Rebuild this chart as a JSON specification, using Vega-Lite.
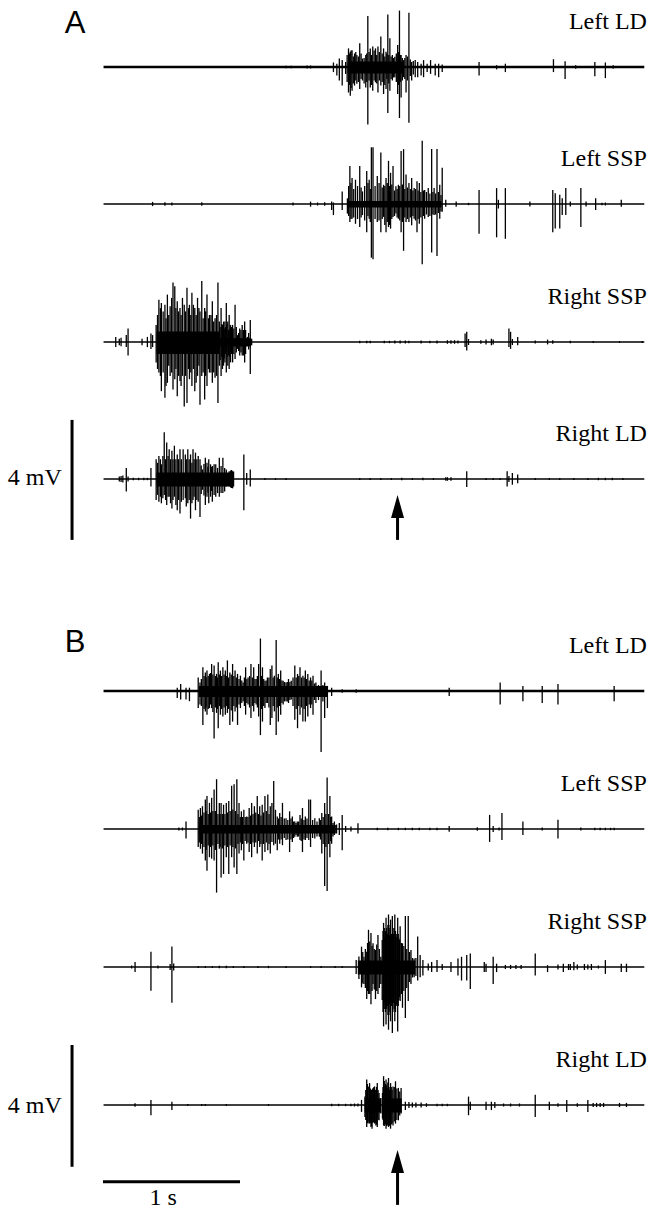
{"$schema":"https://vega.github.io/schema/vega-lite/v6.json",
"padding":0,"bounds":"flush","spacing":0,"background":"white",
"config":{"view":{"stroke":null},"concat":{"spacing":0}},
"resolve":{"scale":{"x":"independent","y":"independent"}},
"datasets":{"d":[
{"tr":"A1","k":"B","t":0.004,"t2":3.951,"lo":0},
{"tr":"A1","k":"L","t":3.97,"lo":1.27,"txt":"Left LD"},
{"tr":"A1","k":"P","t":-0.204,"lo":1.133,"txt":"A"},
{"tr":"A1","k":"c","t":1.785,"t2":2.19,"lo":-0.22,"hi":0.18},
{"tr":"A1","k":"s","t":1.336,"lo":-0.04,"hi":0.04},
{"tr":"A1","k":"s","t":1.374,"lo":-0.04,"hi":0.04},
{"tr":"A1","k":"s","t":1.49,"lo":-0.05,"hi":0.05},
{"tr":"A1","k":"s","t":1.515,"lo":-0.05,"hi":0.05},
{"tr":"A1","k":"s","t":1.682,"lo":-0.17,"hi":0.15},
{"tr":"A1","k":"s","t":1.707,"lo":-0.28,"hi":0.11},
{"tr":"A1","k":"s","t":1.725,"lo":-0.45,"hi":0.28},
{"tr":"A1","k":"s","t":1.746,"lo":-0.62,"hi":0.23},
{"tr":"A1","k":"s","t":1.771,"lo":-0.23,"hi":0.17},
{"tr":"A1","k":"s","t":1.782,"lo":-0.5,"hi":0.4},
{"tr":"A1","k":"s","t":1.792,"lo":-0.85,"hi":0.62},
{"tr":"A1","k":"s","t":1.798,"lo":-0.6,"hi":0.45},
{"tr":"A1","k":"s","t":1.805,"lo":-0.96,"hi":0.51},
{"tr":"A1","k":"s","t":1.811,"lo":-0.7,"hi":0.55},
{"tr":"A1","k":"s","t":1.818,"lo":-0.79,"hi":0.56},
{"tr":"A1","k":"s","t":1.827,"lo":-0.55,"hi":0.35},
{"tr":"A1","k":"s","t":1.836,"lo":-0.62,"hi":0.45},
{"tr":"A1","k":"s","t":1.845,"lo":-0.45,"hi":0.5},
{"tr":"A1","k":"s","t":1.853,"lo":-0.56,"hi":0.4},
{"tr":"A1","k":"s","t":1.864,"lo":-0.5,"hi":0.35},
{"tr":"A1","k":"s","t":1.874,"lo":-0.73,"hi":0.79},
{"tr":"A1","k":"s","t":1.884,"lo":-0.4,"hi":0.45},
{"tr":"A1","k":"s","t":1.894,"lo":-0.45,"hi":0.28},
{"tr":"A1","k":"s","t":1.906,"lo":-0.55,"hi":0.3},
{"tr":"A1","k":"s","t":1.918,"lo":-0.68,"hi":0.4},
{"tr":"A1","k":"s","t":1.925,"lo":-0.5,"hi":0.45},
{"tr":"A1","k":"s","t":1.933,"lo":-1.92,"hi":1.7},
{"tr":"A1","k":"s","t":1.942,"lo":-0.45,"hi":0.5},
{"tr":"A1","k":"s","t":1.951,"lo":-0.68,"hi":0.62},
{"tr":"A1","k":"s","t":1.96,"lo":-0.6,"hi":0.4},
{"tr":"A1","k":"s","t":1.969,"lo":-0.79,"hi":0.68},
{"tr":"A1","k":"s","t":1.979,"lo":-0.45,"hi":0.55},
{"tr":"A1","k":"s","t":1.989,"lo":-0.51,"hi":0.62},
{"tr":"A1","k":"s","t":1.998,"lo":-0.55,"hi":0.4},
{"tr":"A1","k":"s","t":2.007,"lo":-0.85,"hi":0.68},
{"tr":"A1","k":"s","t":2.017,"lo":-0.45,"hi":0.5},
{"tr":"A1","k":"s","t":2.028,"lo":-0.62,"hi":1.02},
{"tr":"A1","k":"s","t":2.038,"lo":-0.5,"hi":0.45},
{"tr":"A1","k":"s","t":2.048,"lo":-0.9,"hi":0.62},
{"tr":"A1","k":"s","t":2.057,"lo":-0.6,"hi":0.35},
{"tr":"A1","k":"s","t":2.066,"lo":-0.73,"hi":0.51},
{"tr":"A1","k":"s","t":2.072,"lo":-0.4,"hi":0.45},
{"tr":"A1","k":"s","t":2.079,"lo":-1.53,"hi":1.75},
{"tr":"A1","k":"s","t":2.086,"lo":-0.55,"hi":0.4},
{"tr":"A1","k":"s","t":2.094,"lo":-0.79,"hi":0.96},
{"tr":"A1","k":"s","t":2.103,"lo":-0.4,"hi":0.35},
{"tr":"A1","k":"s","t":2.112,"lo":-0.45,"hi":0.4},
{"tr":"A1","k":"s","t":2.121,"lo":-0.35,"hi":0.3},
{"tr":"A1","k":"s","t":2.13,"lo":-0.34,"hi":0.34},
{"tr":"A1","k":"s","t":2.141,"lo":-0.5,"hi":0.45},
{"tr":"A1","k":"s","t":2.151,"lo":-0.9,"hi":0.73},
{"tr":"A1","k":"s","t":2.158,"lo":-0.6,"hi":0.5},
{"tr":"A1","k":"s","t":2.164,"lo":-1.7,"hi":1.88},
{"tr":"A1","k":"s","t":2.17,"lo":-0.5,"hi":0.4},
{"tr":"A1","k":"s","t":2.176,"lo":-1.02,"hi":0.4},
{"tr":"A1","k":"s","t":2.185,"lo":-0.45,"hi":0.3},
{"tr":"A1","k":"s","t":2.194,"lo":-0.34,"hi":0.23},
{"tr":"A1","k":"s","t":2.203,"lo":-0.4,"hi":0.3},
{"tr":"A1","k":"s","t":2.212,"lo":-0.85,"hi":0.4},
{"tr":"A1","k":"s","t":2.222,"lo":-0.45,"hi":0.35},
{"tr":"A1","k":"s","t":2.233,"lo":-1.86,"hi":1.81},
{"tr":"A1","k":"s","t":2.243,"lo":-0.3,"hi":0.25},
{"tr":"A1","k":"s","t":2.253,"lo":-0.45,"hi":0.17},
{"tr":"A1","k":"s","t":2.265,"lo":-0.25,"hi":0.2},
{"tr":"A1","k":"s","t":2.279,"lo":-0.34,"hi":0.23},
{"tr":"A1","k":"s","t":2.297,"lo":-0.34,"hi":0.17},
{"tr":"A1","k":"s","t":2.322,"lo":-0.28,"hi":0.11},
{"tr":"A1","k":"s","t":2.34,"lo":-0.34,"hi":0.23},
{"tr":"A1","k":"s","t":2.366,"lo":-0.17,"hi":0.11},
{"tr":"A1","k":"s","t":2.391,"lo":-0.23,"hi":0.23},
{"tr":"A1","k":"s","t":2.425,"lo":-0.28,"hi":0.11},
{"tr":"A1","k":"s","t":2.45,"lo":-0.34,"hi":0.11},
{"tr":"A1","k":"s","t":2.476,"lo":-0.17,"hi":0.08},
{"tr":"A1","k":"s","t":2.745,"lo":-0.28,"hi":0.17},
{"tr":"A1","k":"s","t":2.873,"lo":-0.08,"hi":0.06},
{"tr":"A1","k":"s","t":2.937,"lo":-0.17,"hi":0.11},
{"tr":"A1","k":"s","t":3.288,"lo":-0.17,"hi":0.26},
{"tr":"A1","k":"s","t":3.373,"lo":-0.4,"hi":0.19},
{"tr":"A1","k":"s","t":3.45,"lo":-0.06,"hi":0.06},
{"tr":"A1","k":"s","t":3.59,"lo":-0.31,"hi":0.17},
{"tr":"A1","k":"s","t":3.667,"lo":-0.37,"hi":0.15},
{"tr":"A1","k":"s","t":3.724,"lo":-0.06,"hi":0.06},

{"tr":"A2","k":"b","t":0.004,"t2":3.951,"lo":0},
{"tr":"A2","k":"L","t":3.97,"lo":1.27,"txt":"Left SSP"},
{"tr":"A2","k":"c","t":1.79,"t2":2.47,"lo":-0.12,"hi":0.1},
{"tr":"A2","k":"s","t":0.362,"lo":-0.07,"hi":0.07},
{"tr":"A2","k":"s","t":0.452,"lo":-0.06,"hi":0.06},
{"tr":"A2","k":"s","t":0.503,"lo":-0.05,"hi":0.05},
{"tr":"A2","k":"s","t":0.721,"lo":-0.06,"hi":0.06},
{"tr":"A2","k":"s","t":1.387,"lo":-0.05,"hi":0.05},
{"tr":"A2","k":"s","t":1.515,"lo":-0.09,"hi":0.08},
{"tr":"A2","k":"s","t":1.566,"lo":-0.05,"hi":0.05},
{"tr":"A2","k":"s","t":1.618,"lo":-0.06,"hi":0.06},
{"tr":"A2","k":"s","t":1.669,"lo":-0.2,"hi":0.08},
{"tr":"A2","k":"s","t":1.682,"lo":-0.37,"hi":0.05},
{"tr":"A2","k":"s","t":1.746,"lo":-0.2,"hi":0.42},
{"tr":"A2","k":"s","t":1.784,"lo":-0.32,"hi":0.19},
{"tr":"A2","k":"s","t":1.793,"lo":-0.4,"hi":0.6},
{"tr":"A2","k":"s","t":1.802,"lo":-0.6,"hi":1.27},
{"tr":"A2","k":"s","t":1.81,"lo":-0.5,"hi":0.7},
{"tr":"A2","k":"s","t":1.818,"lo":-0.49,"hi":0.87},
{"tr":"A2","k":"s","t":1.83,"lo":-0.45,"hi":0.5},
{"tr":"A2","k":"s","t":1.843,"lo":-0.66,"hi":0.81},
{"tr":"A2","k":"s","t":1.858,"lo":-0.5,"hi":0.6},
{"tr":"A2","k":"s","t":1.874,"lo":-0.77,"hi":1.27},
{"tr":"A2","k":"s","t":1.884,"lo":-0.45,"hi":0.55},
{"tr":"A2","k":"s","t":1.894,"lo":-0.37,"hi":0.42},
{"tr":"A2","k":"s","t":1.91,"lo":-0.55,"hi":0.6},
{"tr":"A2","k":"s","t":1.925,"lo":-0.94,"hi":1.1},
{"tr":"A2","k":"s","t":1.934,"lo":-0.4,"hi":0.7},
{"tr":"A2","k":"s","t":1.943,"lo":-0.49,"hi":0.81},
{"tr":"A2","k":"s","t":1.951,"lo":-0.6,"hi":0.5},
{"tr":"A2","k":"s","t":1.959,"lo":-1.79,"hi":1.89},
{"tr":"A2","k":"s","t":1.971,"lo":-1.84,"hi":1.89},
{"tr":"A2","k":"s","t":1.986,"lo":-0.5,"hi":0.6},
{"tr":"A2","k":"s","t":2.002,"lo":-0.6,"hi":0.93},
{"tr":"A2","k":"s","t":2.015,"lo":-0.55,"hi":0.7},
{"tr":"A2","k":"s","t":2.028,"lo":-0.94,"hi":1.72},
{"tr":"A2","k":"s","t":2.038,"lo":-0.5,"hi":0.55},
{"tr":"A2","k":"s","t":2.048,"lo":-0.43,"hi":0.64},
{"tr":"A2","k":"s","t":2.057,"lo":-0.7,"hi":0.6},
{"tr":"A2","k":"s","t":2.066,"lo":-0.94,"hi":0.87},
{"tr":"A2","k":"s","t":2.075,"lo":-0.6,"hi":0.7},
{"tr":"A2","k":"s","t":2.084,"lo":-0.77,"hi":1.44},
{"tr":"A2","k":"s","t":2.092,"lo":-0.7,"hi":0.6},
{"tr":"A2","k":"s","t":2.099,"lo":-0.82,"hi":1.04},
{"tr":"A2","k":"s","t":2.108,"lo":-0.5,"hi":0.65},
{"tr":"A2","k":"s","t":2.117,"lo":-0.43,"hi":1.27},
{"tr":"A2","k":"s","t":2.128,"lo":-0.4,"hi":0.45},
{"tr":"A2","k":"s","t":2.138,"lo":-0.32,"hi":0.59},
{"tr":"A2","k":"s","t":2.147,"lo":-0.45,"hi":0.5},
{"tr":"A2","k":"s","t":2.156,"lo":-0.49,"hi":0.64},
{"tr":"A2","k":"s","t":2.166,"lo":-0.55,"hi":0.6},
{"tr":"A2","k":"s","t":2.176,"lo":-0.94,"hi":1.77},
{"tr":"A2","k":"s","t":2.185,"lo":-0.6,"hi":0.65},
{"tr":"A2","k":"s","t":2.194,"lo":-1.56,"hi":1.83},
{"tr":"A2","k":"s","t":2.203,"lo":-0.45,"hi":0.5},
{"tr":"A2","k":"s","t":2.212,"lo":-0.6,"hi":0.98},
{"tr":"A2","k":"s","t":2.222,"lo":-0.5,"hi":0.55},
{"tr":"A2","k":"s","t":2.233,"lo":-0.6,"hi":0.7},
{"tr":"A2","k":"s","t":2.243,"lo":-0.45,"hi":0.5},
{"tr":"A2","k":"s","t":2.253,"lo":-0.71,"hi":0.87},
{"tr":"A2","k":"s","t":2.262,"lo":-0.4,"hi":0.45},
{"tr":"A2","k":"s","t":2.271,"lo":-0.49,"hi":0.53},
{"tr":"A2","k":"s","t":2.281,"lo":-0.55,"hi":0.5},
{"tr":"A2","k":"s","t":2.292,"lo":-0.94,"hi":0.76},
{"tr":"A2","k":"s","t":2.3,"lo":-0.5,"hi":0.45},
{"tr":"A2","k":"s","t":2.309,"lo":-0.66,"hi":0.7},
{"tr":"A2","k":"s","t":2.32,"lo":-0.45,"hi":0.4},
{"tr":"A2","k":"s","t":2.33,"lo":-2.01,"hi":2.11},
{"tr":"A2","k":"s","t":2.339,"lo":-0.4,"hi":0.45},
{"tr":"A2","k":"s","t":2.348,"lo":-0.49,"hi":0.47},
{"tr":"A2","k":"s","t":2.361,"lo":-0.35,"hi":0.4},
{"tr":"A2","k":"s","t":2.374,"lo":-0.43,"hi":0.53},
{"tr":"A2","k":"s","t":2.386,"lo":-0.4,"hi":0.35},
{"tr":"A2","k":"s","t":2.399,"lo":-1.62,"hi":1.83},
{"tr":"A2","k":"s","t":2.408,"lo":-0.35,"hi":0.4},
{"tr":"A2","k":"s","t":2.417,"lo":-0.37,"hi":0.53},
{"tr":"A2","k":"s","t":2.428,"lo":-0.35,"hi":0.35},
{"tr":"A2","k":"s","t":2.438,"lo":-1.73,"hi":1.83},
{"tr":"A2","k":"s","t":2.448,"lo":-0.3,"hi":0.4},
{"tr":"A2","k":"s","t":2.458,"lo":-0.49,"hi":0.64},
{"tr":"A2","k":"s","t":2.467,"lo":-0.25,"hi":0.3},
{"tr":"A2","k":"s","t":2.476,"lo":-0.26,"hi":1.21},
{"tr":"A2","k":"s","t":2.502,"lo":-0.09,"hi":0.14},
{"tr":"A2","k":"s","t":2.578,"lo":-0.09,"hi":0.08},
{"tr":"A2","k":"s","t":2.668,"lo":-0.04,"hi":0.04},
{"tr":"A2","k":"s","t":2.745,"lo":-0.99,"hi":0.47},
{"tr":"A2","k":"s","t":2.873,"lo":-1.11,"hi":0.53},
{"tr":"A2","k":"s","t":2.886,"lo":-0.15,"hi":0.14},
{"tr":"A2","k":"s","t":2.937,"lo":-1.16,"hi":0.53},
{"tr":"A2","k":"s","t":3.116,"lo":-0.08,"hi":0.08},
{"tr":"A2","k":"s","t":3.283,"lo":-0.94,"hi":0.47},
{"tr":"A2","k":"s","t":3.301,"lo":-0.82,"hi":0.36},
{"tr":"A2","k":"s","t":3.334,"lo":-0.82,"hi":0.31},
{"tr":"A2","k":"s","t":3.352,"lo":-0.37,"hi":0.19},
{"tr":"A2","k":"s","t":3.378,"lo":-0.37,"hi":0.53},
{"tr":"A2","k":"s","t":3.411,"lo":-0.08,"hi":0.08},
{"tr":"A2","k":"s","t":3.488,"lo":-0.77,"hi":0.53},
{"tr":"A2","k":"s","t":3.526,"lo":-0.08,"hi":0.08},
{"tr":"A2","k":"s","t":3.596,"lo":-0.2,"hi":0.19},
{"tr":"A2","k":"s","t":3.642,"lo":-0.04,"hi":0.04},
{"tr":"A2","k":"s","t":3.667,"lo":-0.05,"hi":0.05},
{"tr":"A2","k":"s","t":3.783,"lo":-0.09,"hi":0.14},

{"tr":"A3","k":"b","t":0.004,"t2":3.951,"lo":0},
{"tr":"A3","k":"L","t":3.97,"lo":1.27,"txt":"Right SSP"},
{"tr":"A3","k":"c","t":0.39,"t2":0.85,"lo":-0.4,"hi":0.35},
{"tr":"A3","k":"c","t":0.85,"t2":1.08,"lo":-0.15,"hi":0.13},
{"tr":"A3","k":"s","t":0.093,"lo":-0.17,"hi":0.17},
{"tr":"A3","k":"s","t":0.119,"lo":-0.11,"hi":0.11},
{"tr":"A3","k":"s","t":0.132,"lo":-0.14,"hi":0.14},
{"tr":"A3","k":"s","t":0.17,"lo":-0.17,"hi":0.23},
{"tr":"A3","k":"s","t":0.183,"lo":-0.45,"hi":0.45},
{"tr":"A3","k":"s","t":0.285,"lo":-0.11,"hi":0.11},
{"tr":"A3","k":"s","t":0.324,"lo":-0.17,"hi":0.17},
{"tr":"A3","k":"s","t":0.35,"lo":-0.23,"hi":0.28},
{"tr":"A3","k":"s","t":0.362,"lo":-0.17,"hi":0.23},
{"tr":"A3","k":"s","t":0.388,"lo":-0.68,"hi":0.57},
{"tr":"A3","k":"s","t":0.398,"lo":-0.9,"hi":0.9},
{"tr":"A3","k":"s","t":0.408,"lo":-1.02,"hi":1.41},
{"tr":"A3","k":"s","t":0.419,"lo":-1.13,"hi":1.13},
{"tr":"A3","k":"s","t":0.426,"lo":-1.64,"hi":1.3},
{"tr":"A3","k":"s","t":0.439,"lo":-1.02,"hi":1.02},
{"tr":"A3","k":"s","t":0.452,"lo":-1.86,"hi":1.24},
{"tr":"A3","k":"s","t":0.46,"lo":-1.47,"hi":0.79},
{"tr":"A3","k":"s","t":0.47,"lo":-1.36,"hi":1.58},
{"tr":"A3","k":"s","t":0.48,"lo":-0.79,"hi":0.9},
{"tr":"A3","k":"s","t":0.49,"lo":-1.13,"hi":1.19},
{"tr":"A3","k":"s","t":0.501,"lo":-1.02,"hi":1.47},
{"tr":"A3","k":"s","t":0.511,"lo":-1.58,"hi":1.98},
{"tr":"A3","k":"s","t":0.524,"lo":-1.24,"hi":1.86},
{"tr":"A3","k":"s","t":0.532,"lo":-0.9,"hi":1.13},
{"tr":"A3","k":"s","t":0.542,"lo":-1.81,"hi":1.36},
{"tr":"A3","k":"s","t":0.552,"lo":-1.13,"hi":1.02},
{"tr":"A3","k":"s","t":0.562,"lo":-1.3,"hi":1.13},
{"tr":"A3","k":"s","t":0.57,"lo":-1.47,"hi":0.9},
{"tr":"A3","k":"s","t":0.58,"lo":-1.13,"hi":1.47},
{"tr":"A3","k":"s","t":0.593,"lo":-2.15,"hi":1.24},
{"tr":"A3","k":"s","t":0.603,"lo":-1.13,"hi":1.02},
{"tr":"A3","k":"s","t":0.613,"lo":-2.03,"hi":1.81},
{"tr":"A3","k":"s","t":0.624,"lo":-0.9,"hi":1.13},
{"tr":"A3","k":"s","t":0.631,"lo":-1.24,"hi":1.24},
{"tr":"A3","k":"s","t":0.641,"lo":-1.02,"hi":0.9},
{"tr":"A3","k":"s","t":0.649,"lo":-1.47,"hi":1.64},
{"tr":"A3","k":"s","t":0.66,"lo":-0.9,"hi":1.24},
{"tr":"A3","k":"s","t":0.67,"lo":-1.64,"hi":1.13},
{"tr":"A3","k":"s","t":0.68,"lo":-1.36,"hi":0.9},
{"tr":"A3","k":"s","t":0.69,"lo":-1.13,"hi":1.47},
{"tr":"A3","k":"s","t":0.7,"lo":-0.79,"hi":1.13},
{"tr":"A3","k":"s","t":0.708,"lo":-2.09,"hi":1.02},
{"tr":"A3","k":"s","t":0.721,"lo":-1.13,"hi":2.03},
{"tr":"A3","k":"s","t":0.731,"lo":-1.02,"hi":0.79},
{"tr":"A3","k":"s","t":0.742,"lo":-1.92,"hi":1.13},
{"tr":"A3","k":"s","t":0.749,"lo":-1.13,"hi":1.02},
{"tr":"A3","k":"s","t":0.759,"lo":-1.47,"hi":1.58},
{"tr":"A3","k":"s","t":0.77,"lo":-0.9,"hi":0.79},
{"tr":"A3","k":"s","t":0.777,"lo":-1.02,"hi":0.9},
{"tr":"A3","k":"s","t":0.788,"lo":-1.02,"hi":0.9},
{"tr":"A3","k":"s","t":0.798,"lo":-1.36,"hi":1.36},
{"tr":"A3","k":"s","t":0.808,"lo":-1.02,"hi":0.68},
{"tr":"A3","k":"s","t":0.818,"lo":-1.19,"hi":0.79},
{"tr":"A3","k":"s","t":0.829,"lo":-1.13,"hi":0.9},
{"tr":"A3","k":"s","t":0.839,"lo":-2.03,"hi":1.98},
{"tr":"A3","k":"s","t":0.849,"lo":-0.79,"hi":0.68},
{"tr":"A3","k":"s","t":0.855,"lo":-0.6,"hi":0.5},
{"tr":"A3","k":"s","t":0.862,"lo":-1.13,"hi":1.13},
{"tr":"A3","k":"s","t":0.867,"lo":-0.5,"hi":0.6},
{"tr":"A3","k":"s","t":0.872,"lo":-0.9,"hi":0.57},
{"tr":"A3","k":"s","t":0.88,"lo":-0.79,"hi":0.68},
{"tr":"A3","k":"s","t":0.885,"lo":-0.55,"hi":0.45},
{"tr":"A3","k":"s","t":0.89,"lo":-0.68,"hi":0.68},
{"tr":"A3","k":"s","t":0.895,"lo":-0.4,"hi":0.5},
{"tr":"A3","k":"s","t":0.9,"lo":-1.02,"hi":1.3},
{"tr":"A3","k":"s","t":0.905,"lo":-0.5,"hi":0.6},
{"tr":"A3","k":"s","t":0.911,"lo":-0.79,"hi":0.68},
{"tr":"A3","k":"s","t":0.916,"lo":-0.45,"hi":0.4},
{"tr":"A3","k":"s","t":0.921,"lo":-0.9,"hi":0.9},
{"tr":"A3","k":"s","t":0.926,"lo":-0.5,"hi":0.45},
{"tr":"A3","k":"s","t":0.931,"lo":-0.68,"hi":0.57},
{"tr":"A3","k":"s","t":0.938,"lo":-0.4,"hi":0.5},
{"tr":"A3","k":"s","t":0.946,"lo":-0.68,"hi":0.57},
{"tr":"A3","k":"s","t":0.955,"lo":-0.4,"hi":0.45},
{"tr":"A3","k":"s","t":0.964,"lo":-0.57,"hi":1.24},
{"tr":"A3","k":"s","t":0.973,"lo":-0.35,"hi":0.5},
{"tr":"A3","k":"s","t":0.982,"lo":-0.23,"hi":0.23},
{"tr":"A3","k":"s","t":0.99,"lo":-0.3,"hi":0.3},
{"tr":"A3","k":"s","t":0.998,"lo":-0.45,"hi":0.45},
{"tr":"A3","k":"s","t":1.007,"lo":-0.35,"hi":0.4},
{"tr":"A3","k":"s","t":1.016,"lo":-0.45,"hi":0.57},
{"tr":"A3","k":"s","t":1.025,"lo":-0.45,"hi":0.4},
{"tr":"A3","k":"s","t":1.034,"lo":-0.68,"hi":0.68},
{"tr":"A3","k":"s","t":1.041,"lo":-0.4,"hi":0.4},
{"tr":"A3","k":"s","t":1.054,"lo":-0.11,"hi":0.17},
{"tr":"A3","k":"s","t":1.063,"lo":-0.25,"hi":0.3},
{"tr":"A3","k":"s","t":1.075,"lo":-1.07,"hi":0.73},
{"tr":"A3","k":"s","t":1.085,"lo":-0.11,"hi":0.11},
{"tr":"A3","k":"s","t":1.874,"lo":-0.04,"hi":0.04},
{"tr":"A3","k":"s","t":1.925,"lo":-0.04,"hi":0.04},
{"tr":"A3","k":"s","t":1.951,"lo":-0.04,"hi":0.04},
{"tr":"A3","k":"s","t":2.053,"lo":-0.04,"hi":0.04},
{"tr":"A3","k":"s","t":2.091,"lo":-0.04,"hi":0.04},
{"tr":"A3","k":"s","t":2.13,"lo":-0.05,"hi":0.05},
{"tr":"A3","k":"s","t":2.169,"lo":-0.05,"hi":0.05},
{"tr":"A3","k":"s","t":2.207,"lo":-0.05,"hi":0.05},
{"tr":"A3","k":"s","t":2.233,"lo":-0.04,"hi":0.04},
{"tr":"A3","k":"s","t":2.322,"lo":-0.05,"hi":0.05},
{"tr":"A3","k":"s","t":2.386,"lo":-0.04,"hi":0.04},
{"tr":"A3","k":"s","t":2.438,"lo":-0.05,"hi":0.05},
{"tr":"A3","k":"s","t":2.514,"lo":-0.06,"hi":0.06},
{"tr":"A3","k":"s","t":2.54,"lo":-0.06,"hi":0.06},
{"tr":"A3","k":"s","t":2.566,"lo":-0.06,"hi":0.06},
{"tr":"A3","k":"s","t":2.591,"lo":-0.05,"hi":0.05},
{"tr":"A3","k":"s","t":2.643,"lo":-0.17,"hi":0.28},
{"tr":"A3","k":"s","t":2.655,"lo":-0.28,"hi":0.34},
{"tr":"A3","k":"s","t":2.668,"lo":-0.1,"hi":0.1},
{"tr":"A3","k":"s","t":2.758,"lo":-0.06,"hi":0.06},
{"tr":"A3","k":"s","t":2.796,"lo":-0.08,"hi":0.08},
{"tr":"A3","k":"s","t":2.835,"lo":-0.11,"hi":0.11},
{"tr":"A3","k":"s","t":2.848,"lo":-0.08,"hi":0.08},
{"tr":"A3","k":"s","t":2.963,"lo":-0.17,"hi":0.45},
{"tr":"A3","k":"s","t":2.975,"lo":-0.23,"hi":0.34},
{"tr":"A3","k":"s","t":2.988,"lo":-0.1,"hi":0.1},
{"tr":"A3","k":"s","t":3.027,"lo":-0.11,"hi":0.17},
{"tr":"A3","k":"s","t":3.155,"lo":-0.05,"hi":0.05},
{"tr":"A3","k":"s","t":3.245,"lo":-0.08,"hi":0.08},
{"tr":"A3","k":"s","t":3.283,"lo":-0.06,"hi":0.06},
{"tr":"A3","k":"s","t":3.411,"lo":-0.04,"hi":0.04},
{"tr":"A3","k":"s","t":3.578,"lo":-0.03,"hi":0.03},
{"tr":"A3","k":"s","t":3.77,"lo":-0.03,"hi":0.03},
{"tr":"A3","k":"s","t":3.936,"lo":-0.03,"hi":0.03},

{"tr":"A4","k":"b","t":0.004,"t2":3.951,"lo":0},
{"tr":"A4","k":"L","t":3.97,"lo":1.27,"txt":"Right LD"},
{"tr":"A4","k":"v","t":-0.226,"lo":-2.03,"hi":1.97},
{"tr":"A4","k":"m","t":-0.301,"lo":0.03,"txt":"4 mV"},
{"tr":"A4","k":"v","t":2.15,"lo":-2.03,"hi":-1.25},
{"tr":"A4","k":"p","t":2.15,"lo":-0.917},
{"tr":"A4","k":"c","t":0.39,"t2":0.95,"lo":-0.25,"hi":0.22},
{"tr":"A4","k":"s","t":0.119,"lo":-0.08,"hi":0.08},
{"tr":"A4","k":"s","t":0.132,"lo":-0.1,"hi":0.1},
{"tr":"A4","k":"s","t":0.145,"lo":-0.12,"hi":0.12},
{"tr":"A4","k":"s","t":0.17,"lo":-0.42,"hi":0.37},
{"tr":"A4","k":"s","t":0.183,"lo":-0.08,"hi":0.08},
{"tr":"A4","k":"s","t":0.221,"lo":-0.04,"hi":0.04},
{"tr":"A4","k":"s","t":0.26,"lo":-0.04,"hi":0.04},
{"tr":"A4","k":"s","t":0.298,"lo":-0.04,"hi":0.04},
{"tr":"A4","k":"s","t":0.324,"lo":-0.04,"hi":0.04},
{"tr":"A4","k":"s","t":0.35,"lo":-0.25,"hi":0.37},
{"tr":"A4","k":"s","t":0.388,"lo":-0.7,"hi":0.66},
{"tr":"A4","k":"s","t":0.398,"lo":-0.53,"hi":0.54},
{"tr":"A4","k":"s","t":0.408,"lo":-0.76,"hi":0.77},
{"tr":"A4","k":"s","t":0.419,"lo":-0.59,"hi":0.66},
{"tr":"A4","k":"s","t":0.426,"lo":-0.81,"hi":0.49},
{"tr":"A4","k":"s","t":0.437,"lo":-0.64,"hi":0.77},
{"tr":"A4","k":"s","t":0.447,"lo":-0.53,"hi":1.56},
{"tr":"A4","k":"s","t":0.457,"lo":-0.7,"hi":0.66},
{"tr":"A4","k":"s","t":0.465,"lo":-0.87,"hi":1.22},
{"tr":"A4","k":"s","t":0.475,"lo":-0.59,"hi":0.77},
{"tr":"A4","k":"s","t":0.483,"lo":-0.59,"hi":0.99},
{"tr":"A4","k":"s","t":0.493,"lo":-0.81,"hi":0.66},
{"tr":"A4","k":"s","t":0.503,"lo":-0.98,"hi":0.94},
{"tr":"A4","k":"s","t":0.511,"lo":-0.7,"hi":0.66},
{"tr":"A4","k":"s","t":0.521,"lo":-0.59,"hi":1.11},
{"tr":"A4","k":"s","t":0.532,"lo":-0.87,"hi":0.66},
{"tr":"A4","k":"s","t":0.542,"lo":-1.04,"hi":0.82},
{"tr":"A4","k":"s","t":0.552,"lo":-0.7,"hi":0.66},
{"tr":"A4","k":"s","t":0.562,"lo":-1.15,"hi":0.99},
{"tr":"A4","k":"s","t":0.572,"lo":-0.76,"hi":0.66},
{"tr":"A4","k":"s","t":0.585,"lo":-0.7,"hi":0.99},
{"tr":"A4","k":"s","t":0.601,"lo":-0.64,"hi":0.82},
{"tr":"A4","k":"s","t":0.608,"lo":-0.92,"hi":0.66},
{"tr":"A4","k":"s","t":0.619,"lo":-0.81,"hi":0.99},
{"tr":"A4","k":"s","t":0.629,"lo":-0.7,"hi":0.66},
{"tr":"A4","k":"s","t":0.639,"lo":-1.32,"hi":0.82},
{"tr":"A4","k":"s","t":0.649,"lo":-0.81,"hi":0.54},
{"tr":"A4","k":"s","t":0.657,"lo":-0.7,"hi":0.99},
{"tr":"A4","k":"s","t":0.665,"lo":-0.59,"hi":0.66},
{"tr":"A4","k":"s","t":0.675,"lo":-1.04,"hi":0.88},
{"tr":"A4","k":"s","t":0.685,"lo":-0.7,"hi":0.66},
{"tr":"A4","k":"s","t":0.695,"lo":-0.76,"hi":0.77},
{"tr":"A4","k":"s","t":0.708,"lo":-1.27,"hi":0.66},
{"tr":"A4","k":"s","t":0.717,"lo":-0.5,"hi":0.45},
{"tr":"A4","k":"s","t":0.726,"lo":-0.36,"hi":0.32},
{"tr":"A4","k":"s","t":0.737,"lo":-0.55,"hi":0.5},
{"tr":"A4","k":"s","t":0.747,"lo":-0.87,"hi":0.71},
{"tr":"A4","k":"s","t":0.759,"lo":-0.59,"hi":0.54},
{"tr":"A4","k":"s","t":0.766,"lo":-0.45,"hi":0.4},
{"tr":"A4","k":"s","t":0.772,"lo":-0.81,"hi":0.66},
{"tr":"A4","k":"s","t":0.785,"lo":-0.59,"hi":0.49},
{"tr":"A4","k":"s","t":0.792,"lo":-0.4,"hi":0.4},
{"tr":"A4","k":"s","t":0.798,"lo":-0.76,"hi":0.43},
{"tr":"A4","k":"s","t":0.811,"lo":-0.53,"hi":0.49},
{"tr":"A4","k":"s","t":0.823,"lo":-0.59,"hi":0.49},
{"tr":"A4","k":"s","t":0.836,"lo":-0.47,"hi":0.37},
{"tr":"A4","k":"s","t":0.849,"lo":-0.59,"hi":0.71},
{"tr":"A4","k":"s","t":0.862,"lo":-0.47,"hi":0.43},
{"tr":"A4","k":"s","t":0.875,"lo":-0.47,"hi":0.71},
{"tr":"A4","k":"s","t":0.888,"lo":-0.42,"hi":0.37},
{"tr":"A4","k":"s","t":0.9,"lo":-0.25,"hi":0.32},
{"tr":"A4","k":"s","t":0.911,"lo":-0.2,"hi":0.2},
{"tr":"A4","k":"s","t":0.921,"lo":-0.25,"hi":0.26},
{"tr":"A4","k":"s","t":0.932,"lo":-0.28,"hi":0.28},
{"tr":"A4","k":"s","t":0.939,"lo":-0.3,"hi":0.3},
{"tr":"A4","k":"s","t":0.946,"lo":-0.31,"hi":0.26},
{"tr":"A4","k":"s","t":0.953,"lo":-0.25,"hi":0.25},
{"tr":"A4","k":"s","t":1.028,"lo":-1.04,"hi":0.82},
{"tr":"A4","k":"s","t":1.049,"lo":-0.19,"hi":0.2},
{"tr":"A4","k":"s","t":1.075,"lo":-0.25,"hi":0.32},
{"tr":"A4","k":"s","t":1.182,"lo":-0.03,"hi":0.03},
{"tr":"A4","k":"s","t":1.259,"lo":-0.03,"hi":0.03},
{"tr":"A4","k":"s","t":1.336,"lo":-0.03,"hi":0.03},
{"tr":"A4","k":"s","t":1.874,"lo":-0.03,"hi":0.03},
{"tr":"A4","k":"s","t":1.95,"lo":-0.03,"hi":0.03},
{"tr":"A4","k":"s","t":2.028,"lo":-0.03,"hi":0.03},
{"tr":"A4","k":"s","t":2.105,"lo":-0.03,"hi":0.03},
{"tr":"A4","k":"s","t":2.181,"lo":-0.04,"hi":0.04},
{"tr":"A4","k":"s","t":2.258,"lo":-0.03,"hi":0.03},
{"tr":"A4","k":"s","t":2.335,"lo":-0.04,"hi":0.04},
{"tr":"A4","k":"s","t":2.412,"lo":-0.03,"hi":0.03},
{"tr":"A4","k":"s","t":2.502,"lo":-0.06,"hi":0.06},
{"tr":"A4","k":"s","t":2.514,"lo":-0.06,"hi":0.06},
{"tr":"A4","k":"s","t":2.54,"lo":-0.06,"hi":0.06},
{"tr":"A4","k":"s","t":2.655,"lo":-0.27,"hi":0.26},
{"tr":"A4","k":"s","t":2.796,"lo":-0.03,"hi":0.03},
{"tr":"A4","k":"s","t":2.848,"lo":-0.03,"hi":0.03},
{"tr":"A4","k":"s","t":2.899,"lo":-0.03,"hi":0.03},
{"tr":"A4","k":"s","t":2.95,"lo":-0.25,"hi":0.26},
{"tr":"A4","k":"s","t":2.963,"lo":-0.1,"hi":0.1},
{"tr":"A4","k":"s","t":2.988,"lo":-0.19,"hi":0.2},
{"tr":"A4","k":"s","t":3.027,"lo":-0.14,"hi":0.15},
{"tr":"A4","k":"s","t":3.155,"lo":-0.03,"hi":0.03},
{"tr":"A4","k":"s","t":3.258,"lo":-0.03,"hi":0.03},
{"tr":"A4","k":"s","t":3.334,"lo":-0.03,"hi":0.03},
{"tr":"A4","k":"s","t":3.437,"lo":-0.03,"hi":0.03},
{"tr":"A4","k":"s","t":3.539,"lo":-0.03,"hi":0.03},
{"tr":"A4","k":"s","t":3.616,"lo":-0.04,"hi":0.04},
{"tr":"A4","k":"s","t":3.667,"lo":-0.04,"hi":0.04},
{"tr":"A4","k":"s","t":3.718,"lo":-0.04,"hi":0.04},
{"tr":"A4","k":"s","t":3.795,"lo":-0.03,"hi":0.03},

{"tr":"B1","k":"B","t":0.004,"t2":3.951,"lo":0},
{"tr":"B1","k":"L","t":3.97,"lo":1.27,"txt":"Left LD"},
{"tr":"B1","k":"P","t":-0.204,"lo":1.3,"txt":"B"},
{"tr":"B1","k":"c","t":0.7,"t2":1.64,"lo":-0.2,"hi":0.17},
{"tr":"B1","k":"s","t":0.542,"lo":-0.23,"hi":0.11},
{"tr":"B1","k":"s","t":0.567,"lo":-0.28,"hi":0.23},
{"tr":"B1","k":"s","t":0.606,"lo":-0.28,"hi":0.11},
{"tr":"B1","k":"s","t":0.631,"lo":-0.34,"hi":0.11},
{"tr":"B1","k":"s","t":0.695,"lo":-0.57,"hi":0.45},
{"tr":"B1","k":"s","t":0.708,"lo":-0.45,"hi":0.28},
{"tr":"B1","k":"s","t":0.718,"lo":-0.5,"hi":0.4},
{"tr":"B1","k":"s","t":0.729,"lo":-1.13,"hi":0.79},
{"tr":"B1","k":"s","t":0.738,"lo":-0.6,"hi":0.5},
{"tr":"B1","k":"s","t":0.747,"lo":-0.68,"hi":0.62},
{"tr":"B1","k":"s","t":0.753,"lo":-0.55,"hi":0.45},
{"tr":"B1","k":"s","t":0.759,"lo":-0.79,"hi":0.68},
{"tr":"B1","k":"s","t":0.768,"lo":-0.6,"hi":0.5},
{"tr":"B1","k":"s","t":0.777,"lo":-0.57,"hi":0.57},
{"tr":"B1","k":"s","t":0.785,"lo":-0.45,"hi":0.6},
{"tr":"B1","k":"s","t":0.793,"lo":-0.57,"hi":0.9},
{"tr":"B1","k":"s","t":0.802,"lo":-0.7,"hi":0.55},
{"tr":"B1","k":"s","t":0.811,"lo":-1.58,"hi":0.85},
{"tr":"B1","k":"s","t":0.82,"lo":-0.55,"hi":0.5},
{"tr":"B1","k":"s","t":0.829,"lo":-0.73,"hi":0.57},
{"tr":"B1","k":"s","t":0.835,"lo":-0.6,"hi":0.45},
{"tr":"B1","k":"s","t":0.841,"lo":-1.24,"hi":0.96},
{"tr":"B1","k":"s","t":0.849,"lo":-0.5,"hi":0.55},
{"tr":"B1","k":"s","t":0.857,"lo":-0.79,"hi":0.68},
{"tr":"B1","k":"s","t":0.866,"lo":-0.6,"hi":0.5},
{"tr":"B1","k":"s","t":0.875,"lo":-0.85,"hi":0.79},
{"tr":"B1","k":"s","t":0.884,"lo":-0.55,"hi":0.55},
{"tr":"B1","k":"s","t":0.893,"lo":-0.79,"hi":0.68},
{"tr":"B1","k":"s","t":0.9,"lo":-0.5,"hi":0.5},
{"tr":"B1","k":"s","t":0.908,"lo":-0.73,"hi":1.02},
{"tr":"B1","k":"s","t":0.917,"lo":-0.6,"hi":0.45},
{"tr":"B1","k":"s","t":0.926,"lo":-1.13,"hi":0.62},
{"tr":"B1","k":"s","t":0.936,"lo":-0.65,"hi":0.55},
{"tr":"B1","k":"s","t":0.946,"lo":-1.02,"hi":0.9},
{"tr":"B1","k":"s","t":0.955,"lo":-0.5,"hi":0.5},
{"tr":"B1","k":"s","t":0.964,"lo":-0.68,"hi":0.68},
{"tr":"B1","k":"s","t":0.973,"lo":-0.55,"hi":0.45},
{"tr":"B1","k":"s","t":0.982,"lo":-1.13,"hi":0.57},
{"tr":"B1","k":"s","t":0.993,"lo":-0.45,"hi":0.4},
{"tr":"B1","k":"s","t":1.003,"lo":-0.57,"hi":0.51},
{"tr":"B1","k":"s","t":1.013,"lo":-0.4,"hi":0.35},
{"tr":"B1","k":"s","t":1.023,"lo":-0.34,"hi":0.28},
{"tr":"B1","k":"s","t":1.032,"lo":-0.5,"hi":0.45},
{"tr":"B1","k":"s","t":1.041,"lo":-0.79,"hi":0.79},
{"tr":"B1","k":"s","t":1.05,"lo":-0.4,"hi":0.4},
{"tr":"B1","k":"s","t":1.059,"lo":-0.45,"hi":0.45},
{"tr":"B1","k":"s","t":1.07,"lo":-0.55,"hi":0.5},
{"tr":"B1","k":"s","t":1.08,"lo":-0.9,"hi":0.9},
{"tr":"B1","k":"s","t":1.09,"lo":-0.5,"hi":0.45},
{"tr":"B1","k":"s","t":1.1,"lo":-0.68,"hi":0.79},
{"tr":"B1","k":"s","t":1.109,"lo":-0.4,"hi":0.4},
{"tr":"B1","k":"s","t":1.118,"lo":-0.45,"hi":0.4},
{"tr":"B1","k":"s","t":1.127,"lo":-0.55,"hi":0.5},
{"tr":"B1","k":"s","t":1.136,"lo":-0.85,"hi":0.9},
{"tr":"B1","k":"s","t":1.149,"lo":-1.47,"hi":1.75},
{"tr":"B1","k":"s","t":1.156,"lo":-0.6,"hi":0.5},
{"tr":"B1","k":"s","t":1.164,"lo":-1.02,"hi":0.79},
{"tr":"B1","k":"s","t":1.173,"lo":-0.5,"hi":0.4},
{"tr":"B1","k":"s","t":1.182,"lo":-0.57,"hi":0.34},
{"tr":"B1","k":"s","t":1.191,"lo":-0.4,"hi":0.35},
{"tr":"B1","k":"s","t":1.2,"lo":-0.4,"hi":0.45},
{"tr":"B1","k":"s","t":1.211,"lo":-0.55,"hi":0.45},
{"tr":"B1","k":"s","t":1.221,"lo":-1.13,"hi":0.73},
{"tr":"B1","k":"s","t":1.233,"lo":-0.9,"hi":0.85},
{"tr":"B1","k":"s","t":1.242,"lo":-0.5,"hi":0.45},
{"tr":"B1","k":"s","t":1.251,"lo":-0.68,"hi":0.51},
{"tr":"B1","k":"s","t":1.264,"lo":-1.47,"hi":1.7},
{"tr":"B1","k":"s","t":1.272,"lo":-0.55,"hi":0.45},
{"tr":"B1","k":"s","t":1.28,"lo":-1.02,"hi":0.57},
{"tr":"B1","k":"s","t":1.289,"lo":-0.5,"hi":0.4},
{"tr":"B1","k":"s","t":1.297,"lo":-0.79,"hi":0.68},
{"tr":"B1","k":"s","t":1.306,"lo":-0.4,"hi":0.35},
{"tr":"B1","k":"s","t":1.315,"lo":-0.45,"hi":0.34},
{"tr":"B1","k":"s","t":1.325,"lo":-0.35,"hi":0.3},
{"tr":"B1","k":"s","t":1.336,"lo":-0.34,"hi":0.28},
{"tr":"B1","k":"s","t":1.345,"lo":-0.35,"hi":0.3},
{"tr":"B1","k":"s","t":1.354,"lo":-0.4,"hi":0.4},
{"tr":"B1","k":"s","t":1.364,"lo":-0.3,"hi":0.3},
{"tr":"B1","k":"s","t":1.374,"lo":-0.28,"hi":0.34},
{"tr":"B1","k":"s","t":1.387,"lo":-0.5,"hi":0.45},
{"tr":"B1","k":"s","t":1.4,"lo":-0.96,"hi":0.85},
{"tr":"B1","k":"s","t":1.41,"lo":-0.6,"hi":0.45},
{"tr":"B1","k":"s","t":1.42,"lo":-1.24,"hi":0.57},
{"tr":"B1","k":"s","t":1.429,"lo":-0.5,"hi":0.5},
{"tr":"B1","k":"s","t":1.438,"lo":-0.79,"hi":0.79},
{"tr":"B1","k":"s","t":1.448,"lo":-0.55,"hi":0.45},
{"tr":"B1","k":"s","t":1.459,"lo":-1.02,"hi":0.51},
{"tr":"B1","k":"s","t":1.468,"lo":-0.6,"hi":0.45},
{"tr":"B1","k":"s","t":1.477,"lo":-1.02,"hi":0.68},
{"tr":"B1","k":"s","t":1.486,"lo":-0.5,"hi":0.4},
{"tr":"B1","k":"s","t":1.495,"lo":-0.85,"hi":0.57},
{"tr":"B1","k":"s","t":1.505,"lo":-0.45,"hi":0.35},
{"tr":"B1","k":"s","t":1.515,"lo":-0.57,"hi":0.45},
{"tr":"B1","k":"s","t":1.524,"lo":-0.45,"hi":0.35},
{"tr":"B1","k":"s","t":1.533,"lo":-0.79,"hi":0.51},
{"tr":"B1","k":"s","t":1.544,"lo":-0.3,"hi":0.25},
{"tr":"B1","k":"s","t":1.554,"lo":-0.4,"hi":0.28},
{"tr":"B1","k":"s","t":1.573,"lo":-0.3,"hi":0.2},
{"tr":"B1","k":"s","t":1.592,"lo":-2.03,"hi":0.68},
{"tr":"B1","k":"s","t":1.605,"lo":-0.35,"hi":0.2},
{"tr":"B1","k":"s","t":1.618,"lo":-0.9,"hi":0.28},
{"tr":"B1","k":"s","t":1.638,"lo":-0.57,"hi":0.17},
{"tr":"B1","k":"s","t":1.669,"lo":-0.17,"hi":0.11},
{"tr":"B1","k":"s","t":1.746,"lo":-0.06,"hi":0.06},
{"tr":"B1","k":"s","t":1.848,"lo":-0.06,"hi":0.06},
{"tr":"B1","k":"s","t":2.232,"lo":-0.03,"hi":0.03},
{"tr":"B1","k":"s","t":2.297,"lo":-0.03,"hi":0.03},
{"tr":"B1","k":"s","t":2.527,"lo":-0.17,"hi":0.11},
{"tr":"B1","k":"s","t":2.899,"lo":-0.45,"hi":0.28},
{"tr":"B1","k":"s","t":3.065,"lo":-0.34,"hi":0.17},
{"tr":"B1","k":"s","t":3.206,"lo":-0.4,"hi":0.17},
{"tr":"B1","k":"s","t":3.321,"lo":-0.45,"hi":0.23},
{"tr":"B1","k":"s","t":3.731,"lo":-0.34,"hi":0.17},

{"tr":"B2","k":"b","t":0.004,"t2":3.951,"lo":0},
{"tr":"B2","k":"L","t":3.97,"lo":1.27,"txt":"Left SSP"},
{"tr":"B2","k":"c","t":0.7,"t2":1.7,"lo":-0.15,"hi":0.13},
{"tr":"B2","k":"s","t":0.554,"lo":-0.05,"hi":0.05},
{"tr":"B2","k":"s","t":0.58,"lo":-0.05,"hi":0.05},
{"tr":"B2","k":"s","t":0.606,"lo":-0.32,"hi":0.25},
{"tr":"B2","k":"s","t":0.695,"lo":-0.6,"hi":0.64},
{"tr":"B2","k":"s","t":0.703,"lo":-0.45,"hi":0.4},
{"tr":"B2","k":"s","t":0.711,"lo":-0.66,"hi":0.7},
{"tr":"B2","k":"s","t":0.718,"lo":-0.5,"hi":0.45},
{"tr":"B2","k":"s","t":0.726,"lo":-0.82,"hi":0.76},
{"tr":"B2","k":"s","t":0.737,"lo":-0.6,"hi":0.55},
{"tr":"B2","k":"s","t":0.747,"lo":-1.05,"hi":0.98},
{"tr":"B2","k":"s","t":0.753,"lo":-0.7,"hi":0.6},
{"tr":"B2","k":"s","t":0.759,"lo":-1.39,"hi":1.1},
{"tr":"B2","k":"s","t":0.768,"lo":-0.55,"hi":0.5},
{"tr":"B2","k":"s","t":0.777,"lo":-0.94,"hi":0.87},
{"tr":"B2","k":"s","t":0.785,"lo":-0.6,"hi":0.55},
{"tr":"B2","k":"s","t":0.793,"lo":-0.99,"hi":1.04},
{"tr":"B2","k":"s","t":0.802,"lo":-0.55,"hi":0.6},
{"tr":"B2","k":"s","t":0.811,"lo":-1.05,"hi":1.32},
{"tr":"B2","k":"s","t":0.82,"lo":-0.7,"hi":0.6},
{"tr":"B2","k":"s","t":0.829,"lo":-2.12,"hi":1.66},
{"tr":"B2","k":"s","t":0.839,"lo":-0.5,"hi":0.5},
{"tr":"B2","k":"s","t":0.849,"lo":-0.66,"hi":0.87},
{"tr":"B2","k":"s","t":0.855,"lo":-0.6,"hi":0.5},
{"tr":"B2","k":"s","t":0.862,"lo":-1.62,"hi":0.87},
{"tr":"B2","k":"s","t":0.871,"lo":-0.65,"hi":0.5},
{"tr":"B2","k":"s","t":0.88,"lo":-1.5,"hi":0.81},
{"tr":"B2","k":"s","t":0.89,"lo":-0.55,"hi":0.5},
{"tr":"B2","k":"s","t":0.9,"lo":-0.94,"hi":0.87},
{"tr":"B2","k":"s","t":0.909,"lo":-0.6,"hi":0.55},
{"tr":"B2","k":"s","t":0.918,"lo":-1.5,"hi":0.93},
{"tr":"B2","k":"s","t":0.928,"lo":-0.55,"hi":0.6},
{"tr":"B2","k":"s","t":0.939,"lo":-0.94,"hi":1.44},
{"tr":"B2","k":"s","t":0.948,"lo":-0.6,"hi":0.65},
{"tr":"B2","k":"s","t":0.957,"lo":-1.28,"hi":1.49},
{"tr":"B2","k":"s","t":0.967,"lo":-0.65,"hi":0.6},
{"tr":"B2","k":"s","t":0.977,"lo":-1.5,"hi":1.66},
{"tr":"B2","k":"s","t":0.985,"lo":-0.5,"hi":0.5},
{"tr":"B2","k":"s","t":0.993,"lo":-0.82,"hi":0.87},
{"tr":"B2","k":"s","t":1.002,"lo":-0.45,"hi":0.4},
{"tr":"B2","k":"s","t":1.01,"lo":-0.71,"hi":0.59},
{"tr":"B2","k":"s","t":1.019,"lo":-0.5,"hi":0.4},
{"tr":"B2","k":"s","t":1.028,"lo":-1.05,"hi":0.64},
{"tr":"B2","k":"s","t":1.038,"lo":-0.4,"hi":0.4},
{"tr":"B2","k":"s","t":1.049,"lo":-0.49,"hi":0.42},
{"tr":"B2","k":"s","t":1.058,"lo":-0.45,"hi":0.4},
{"tr":"B2","k":"s","t":1.067,"lo":-0.77,"hi":0.7},
{"tr":"B2","k":"s","t":1.076,"lo":-0.5,"hi":0.45},
{"tr":"B2","k":"s","t":1.085,"lo":-0.94,"hi":0.87},
{"tr":"B2","k":"s","t":1.095,"lo":-0.45,"hi":0.5},
{"tr":"B2","k":"s","t":1.105,"lo":-0.6,"hi":0.76},
{"tr":"B2","k":"s","t":1.115,"lo":-0.45,"hi":0.55},
{"tr":"B2","k":"s","t":1.126,"lo":-0.82,"hi":1.1},
{"tr":"B2","k":"s","t":1.135,"lo":-0.4,"hi":0.5},
{"tr":"B2","k":"s","t":1.144,"lo":-0.6,"hi":0.76},
{"tr":"B2","k":"s","t":1.153,"lo":-0.5,"hi":0.45},
{"tr":"B2","k":"s","t":1.162,"lo":-1.05,"hi":0.81},
{"tr":"B2","k":"s","t":1.172,"lo":-0.5,"hi":0.55},
{"tr":"B2","k":"s","t":1.182,"lo":-0.77,"hi":1.1},
{"tr":"B2","k":"s","t":1.192,"lo":-0.45,"hi":0.6},
{"tr":"B2","k":"s","t":1.203,"lo":-0.71,"hi":1.15},
{"tr":"B2","k":"s","t":1.212,"lo":-0.5,"hi":0.5},
{"tr":"B2","k":"s","t":1.221,"lo":-0.82,"hi":0.76},
{"tr":"B2","k":"s","t":1.233,"lo":-0.43,"hi":0.87},
{"tr":"B2","k":"s","t":1.246,"lo":-0.54,"hi":1.6},
{"tr":"B2","k":"s","t":1.259,"lo":-0.49,"hi":0.64},
{"tr":"B2","k":"s","t":1.272,"lo":-0.71,"hi":0.42},
{"tr":"B2","k":"s","t":1.281,"lo":-0.35,"hi":0.35},
{"tr":"B2","k":"s","t":1.29,"lo":-0.49,"hi":0.53},
{"tr":"B2","k":"s","t":1.3,"lo":-0.35,"hi":0.4},
{"tr":"B2","k":"s","t":1.31,"lo":-0.54,"hi":0.87},
{"tr":"B2","k":"s","t":1.323,"lo":-0.3,"hi":0.35},
{"tr":"B2","k":"s","t":1.336,"lo":-0.37,"hi":0.36},
{"tr":"B2","k":"s","t":1.349,"lo":-0.35,"hi":0.3},
{"tr":"B2","k":"s","t":1.362,"lo":-0.77,"hi":0.59},
{"tr":"B2","k":"s","t":1.372,"lo":-0.35,"hi":0.35},
{"tr":"B2","k":"s","t":1.382,"lo":-0.43,"hi":0.42},
{"tr":"B2","k":"s","t":1.391,"lo":-0.3,"hi":0.25},
{"tr":"B2","k":"s","t":1.4,"lo":-0.26,"hi":0.25},
{"tr":"B2","k":"s","t":1.409,"lo":-0.2,"hi":0.2},
{"tr":"B2","k":"s","t":1.418,"lo":-0.26,"hi":0.25},
{"tr":"B2","k":"s","t":1.428,"lo":-0.25,"hi":0.25},
{"tr":"B2","k":"s","t":1.438,"lo":-0.37,"hi":0.47},
{"tr":"B2","k":"s","t":1.447,"lo":-0.4,"hi":0.35},
{"tr":"B2","k":"s","t":1.456,"lo":-0.77,"hi":0.7},
{"tr":"B2","k":"s","t":1.467,"lo":-0.35,"hi":0.3},
{"tr":"B2","k":"s","t":1.477,"lo":-0.37,"hi":0.42},
{"tr":"B2","k":"s","t":1.489,"lo":-0.3,"hi":0.35},
{"tr":"B2","k":"s","t":1.502,"lo":-0.37,"hi":0.98},
{"tr":"B2","k":"s","t":1.515,"lo":-0.6,"hi":0.98},
{"tr":"B2","k":"s","t":1.53,"lo":-0.3,"hi":0.3},
{"tr":"B2","k":"s","t":1.546,"lo":-0.32,"hi":0.36},
{"tr":"B2","k":"s","t":1.562,"lo":-0.25,"hi":0.25},
{"tr":"B2","k":"s","t":1.579,"lo":-0.26,"hi":0.36},
{"tr":"B2","k":"s","t":1.588,"lo":-0.35,"hi":0.3},
{"tr":"B2","k":"s","t":1.597,"lo":-0.82,"hi":0.53},
{"tr":"B2","k":"s","t":1.607,"lo":-0.5,"hi":0.4},
{"tr":"B2","k":"s","t":1.618,"lo":-1.9,"hi":0.87},
{"tr":"B2","k":"s","t":1.627,"lo":-0.6,"hi":0.5},
{"tr":"B2","k":"s","t":1.636,"lo":-2.07,"hi":1.72},
{"tr":"B2","k":"s","t":1.646,"lo":-0.5,"hi":0.5},
{"tr":"B2","k":"s","t":1.656,"lo":-0.94,"hi":1.1},
{"tr":"B2","k":"s","t":1.662,"lo":-0.4,"hi":0.4},
{"tr":"B2","k":"s","t":1.669,"lo":-0.49,"hi":0.42},
{"tr":"B2","k":"s","t":1.679,"lo":-0.25,"hi":0.2},
{"tr":"B2","k":"s","t":1.689,"lo":-0.2,"hi":0.25},
{"tr":"B2","k":"s","t":1.705,"lo":-0.15,"hi":0.15},
{"tr":"B2","k":"s","t":1.725,"lo":-0.2,"hi":0.2},
{"tr":"B2","k":"s","t":1.746,"lo":-0.71,"hi":0.47},
{"tr":"B2","k":"s","t":1.771,"lo":-0.1,"hi":0.1},
{"tr":"B2","k":"s","t":1.81,"lo":-0.08,"hi":0.08},
{"tr":"B2","k":"s","t":1.861,"lo":-0.15,"hi":0.19},
{"tr":"B2","k":"s","t":2.002,"lo":-0.04,"hi":0.04},
{"tr":"B2","k":"s","t":2.079,"lo":-0.04,"hi":0.04},
{"tr":"B2","k":"s","t":2.156,"lo":-0.04,"hi":0.04},
{"tr":"B2","k":"s","t":2.207,"lo":-0.04,"hi":0.04},
{"tr":"B2","k":"s","t":2.258,"lo":-0.04,"hi":0.04},
{"tr":"B2","k":"s","t":2.309,"lo":-0.04,"hi":0.04},
{"tr":"B2","k":"s","t":2.386,"lo":-0.04,"hi":0.04},
{"tr":"B2","k":"s","t":2.438,"lo":-0.04,"hi":0.04},
{"tr":"B2","k":"s","t":2.527,"lo":-0.09,"hi":0.1},
{"tr":"B2","k":"s","t":2.732,"lo":-0.06,"hi":0.06},
{"tr":"B2","k":"s","t":2.822,"lo":-0.43,"hi":0.47},
{"tr":"B2","k":"s","t":2.848,"lo":-0.1,"hi":0.1},
{"tr":"B2","k":"s","t":2.891,"lo":-0.05,"hi":0.05},
{"tr":"B2","k":"s","t":2.912,"lo":-0.37,"hi":0.53},
{"tr":"B2","k":"s","t":3.065,"lo":-0.2,"hi":0.25},
{"tr":"B2","k":"s","t":3.206,"lo":-0.05,"hi":0.05},
{"tr":"B2","k":"s","t":3.321,"lo":-0.32,"hi":0.31},
{"tr":"B2","k":"s","t":3.488,"lo":-0.05,"hi":0.05},
{"tr":"B2","k":"s","t":3.59,"lo":-0.04,"hi":0.04},
{"tr":"B2","k":"s","t":3.629,"lo":-0.04,"hi":0.04},
{"tr":"B2","k":"s","t":3.667,"lo":-0.04,"hi":0.04},
{"tr":"B2","k":"s","t":3.705,"lo":-0.04,"hi":0.04},
{"tr":"B2","k":"s","t":3.731,"lo":-0.04,"hi":0.04},

{"tr":"B3","k":"b","t":0.004,"t2":3.951,"lo":0},
{"tr":"B3","k":"L","t":3.97,"lo":1.27,"txt":"Right SSP"},
{"tr":"B3","k":"c","t":1.86,"t2":2.28,"lo":-0.25,"hi":0.22},
{"tr":"B3","k":"s","t":0.209,"lo":-0.05,"hi":0.05},
{"tr":"B3","k":"s","t":0.234,"lo":-0.17,"hi":0.17},
{"tr":"B3","k":"s","t":0.35,"lo":-0.79,"hi":0.51},
{"tr":"B3","k":"s","t":0.401,"lo":-0.05,"hi":0.05},
{"tr":"B3","k":"s","t":0.49,"lo":-0.1,"hi":0.1},
{"tr":"B3","k":"s","t":0.503,"lo":-1.19,"hi":0.68},
{"tr":"B3","k":"s","t":0.516,"lo":-0.12,"hi":0.12},
{"tr":"B3","k":"s","t":0.695,"lo":-0.03,"hi":0.03},
{"tr":"B3","k":"s","t":0.747,"lo":-0.03,"hi":0.03},
{"tr":"B3","k":"s","t":0.798,"lo":-0.03,"hi":0.03},
{"tr":"B3","k":"s","t":0.849,"lo":-0.04,"hi":0.04},
{"tr":"B3","k":"s","t":0.9,"lo":-0.04,"hi":0.04},
{"tr":"B3","k":"s","t":0.951,"lo":-0.03,"hi":0.03},
{"tr":"B3","k":"s","t":1.028,"lo":-0.03,"hi":0.03},
{"tr":"B3","k":"s","t":1.131,"lo":-0.03,"hi":0.03},
{"tr":"B3","k":"s","t":1.208,"lo":-0.04,"hi":0.04},
{"tr":"B3","k":"s","t":1.336,"lo":-0.03,"hi":0.03},
{"tr":"B3","k":"s","t":1.515,"lo":-0.03,"hi":0.03},
{"tr":"B3","k":"s","t":1.592,"lo":-0.03,"hi":0.03},
{"tr":"B3","k":"s","t":1.694,"lo":-0.03,"hi":0.03},
{"tr":"B3","k":"s","t":1.746,"lo":-0.03,"hi":0.03},
{"tr":"B3","k":"s","t":1.848,"lo":-0.23,"hi":0.23},
{"tr":"B3","k":"s","t":1.868,"lo":-0.4,"hi":0.35},
{"tr":"B3","k":"s","t":1.887,"lo":-0.68,"hi":0.68},
{"tr":"B3","k":"s","t":1.896,"lo":-0.55,"hi":0.5},
{"tr":"B3","k":"s","t":1.905,"lo":-0.57,"hi":0.34},
{"tr":"B3","k":"s","t":1.915,"lo":-0.7,"hi":0.6},
{"tr":"B3","k":"s","t":1.925,"lo":-1.07,"hi":0.51},
{"tr":"B3","k":"s","t":1.931,"lo":-0.8,"hi":0.8},
{"tr":"B3","k":"s","t":1.938,"lo":-0.9,"hi":1.24},
{"tr":"B3","k":"s","t":1.947,"lo":-0.9,"hi":0.85},
{"tr":"B3","k":"s","t":1.956,"lo":-1.24,"hi":1.13},
{"tr":"B3","k":"s","t":1.964,"lo":-0.8,"hi":0.7},
{"tr":"B3","k":"s","t":1.971,"lo":-0.57,"hi":0.79},
{"tr":"B3","k":"s","t":1.98,"lo":-0.75,"hi":0.6},
{"tr":"B3","k":"s","t":1.989,"lo":-1.07,"hi":0.57},
{"tr":"B3","k":"s","t":1.998,"lo":-0.8,"hi":0.75},
{"tr":"B3","k":"s","t":2.007,"lo":-0.9,"hi":1.07},
{"tr":"B3","k":"s","t":2.017,"lo":-0.7,"hi":0.6},
{"tr":"B3","k":"s","t":2.028,"lo":-0.57,"hi":0.34},
{"tr":"B3","k":"s","t":2.038,"lo":-1.1,"hi":0.9},
{"tr":"B3","k":"s","t":2.044,"lo":-1.5,"hi":1.2},
{"tr":"B3","k":"s","t":2.048,"lo":-1.98,"hi":1.47},
{"tr":"B3","k":"s","t":2.053,"lo":-1.4,"hi":1.3},
{"tr":"B3","k":"s","t":2.057,"lo":-1.2,"hi":1.0},
{"tr":"B3","k":"s","t":2.062,"lo":-1.5,"hi":1.2},
{"tr":"B3","k":"s","t":2.066,"lo":-1.92,"hi":1.64},
{"tr":"B3","k":"s","t":2.07,"lo":-1.4,"hi":1.3},
{"tr":"B3","k":"s","t":2.075,"lo":-1.3,"hi":1.1},
{"tr":"B3","k":"s","t":2.08,"lo":-1.6,"hi":1.4},
{"tr":"B3","k":"s","t":2.084,"lo":-2.09,"hi":1.75},
{"tr":"B3","k":"s","t":2.088,"lo":-1.5,"hi":1.3},
{"tr":"B3","k":"s","t":2.092,"lo":-1.25,"hi":1.05},
{"tr":"B3","k":"s","t":2.096,"lo":-1.6,"hi":1.4},
{"tr":"B3","k":"s","t":2.099,"lo":-1.81,"hi":1.58},
{"tr":"B3","k":"s","t":2.105,"lo":-1.3,"hi":1.1},
{"tr":"B3","k":"s","t":2.112,"lo":-2.2,"hi":1.7},
{"tr":"B3","k":"s","t":2.116,"lo":-1.5,"hi":1.3},
{"tr":"B3","k":"s","t":2.121,"lo":-1.2,"hi":1.1},
{"tr":"B3","k":"s","t":2.125,"lo":-1.4,"hi":1.3},
{"tr":"B3","k":"s","t":2.13,"lo":-1.81,"hi":1.75},
{"tr":"B3","k":"s","t":2.135,"lo":-1.5,"hi":1.2},
{"tr":"B3","k":"s","t":2.14,"lo":-1.25,"hi":1.0},
{"tr":"B3","k":"s","t":2.145,"lo":-1.3,"hi":1.1},
{"tr":"B3","k":"s","t":2.151,"lo":-2.15,"hi":1.64},
{"tr":"B3","k":"s","t":2.155,"lo":-1.3,"hi":1.1},
{"tr":"B3","k":"s","t":2.16,"lo":-1.1,"hi":0.95},
{"tr":"B3","k":"s","t":2.165,"lo":-1.0,"hi":0.9},
{"tr":"B3","k":"s","t":2.169,"lo":-1.13,"hi":1.36},
{"tr":"B3","k":"s","t":2.178,"lo":-0.9,"hi":0.8},
{"tr":"B3","k":"s","t":2.186,"lo":-1.36,"hi":0.79},
{"tr":"B3","k":"s","t":2.196,"lo":-0.8,"hi":0.7},
{"tr":"B3","k":"s","t":2.207,"lo":-1.7,"hi":1.7},
{"tr":"B3","k":"s","t":2.217,"lo":-0.7,"hi":0.6},
{"tr":"B3","k":"s","t":2.228,"lo":-1.13,"hi":1.7},
{"tr":"B3","k":"s","t":2.238,"lo":-0.5,"hi":0.5},
{"tr":"B3","k":"s","t":2.248,"lo":-0.57,"hi":0.57},
{"tr":"B3","k":"s","t":2.259,"lo":-0.35,"hi":0.3},
{"tr":"B3","k":"s","t":2.271,"lo":-0.34,"hi":0.28},
{"tr":"B3","k":"s","t":2.284,"lo":-0.3,"hi":0.3},
{"tr":"B3","k":"s","t":2.297,"lo":-0.45,"hi":1.02},
{"tr":"B3","k":"s","t":2.315,"lo":-0.34,"hi":0.4},
{"tr":"B3","k":"s","t":2.335,"lo":-0.28,"hi":0.23},
{"tr":"B3","k":"s","t":2.374,"lo":-0.12,"hi":0.12},
{"tr":"B3","k":"s","t":2.399,"lo":-0.17,"hi":0.17},
{"tr":"B3","k":"s","t":2.438,"lo":-0.17,"hi":0.23},
{"tr":"B3","k":"s","t":2.476,"lo":-0.1,"hi":0.1},
{"tr":"B3","k":"s","t":2.54,"lo":-0.17,"hi":0.17},
{"tr":"B3","k":"s","t":2.591,"lo":-0.28,"hi":0.28},
{"tr":"B3","k":"s","t":2.617,"lo":-0.45,"hi":0.34},
{"tr":"B3","k":"s","t":2.655,"lo":-0.45,"hi":0.4},
{"tr":"B3","k":"s","t":2.681,"lo":-0.73,"hi":0.45},
{"tr":"B3","k":"s","t":2.783,"lo":-0.17,"hi":0.17},
{"tr":"B3","k":"s","t":2.796,"lo":-0.17,"hi":0.11},
{"tr":"B3","k":"s","t":2.848,"lo":-0.57,"hi":0.34},
{"tr":"B3","k":"s","t":2.873,"lo":-0.17,"hi":0.11},
{"tr":"B3","k":"s","t":2.937,"lo":-0.07,"hi":0.07},
{"tr":"B3","k":"s","t":2.975,"lo":-0.07,"hi":0.07},
{"tr":"B3","k":"s","t":3.014,"lo":-0.07,"hi":0.07},
{"tr":"B3","k":"s","t":3.052,"lo":-0.07,"hi":0.07},
{"tr":"B3","k":"s","t":3.155,"lo":-0.28,"hi":0.45},
{"tr":"B3","k":"s","t":3.245,"lo":-0.17,"hi":0.06},
{"tr":"B3","k":"s","t":3.321,"lo":-0.08,"hi":0.08},
{"tr":"B3","k":"s","t":3.36,"lo":-0.17,"hi":0.11},
{"tr":"B3","k":"s","t":3.398,"lo":-0.1,"hi":0.1},
{"tr":"B3","k":"s","t":3.411,"lo":-0.1,"hi":0.1},
{"tr":"B3","k":"s","t":3.437,"lo":-0.11,"hi":0.17},
{"tr":"B3","k":"s","t":3.462,"lo":-0.08,"hi":0.08},
{"tr":"B3","k":"s","t":3.514,"lo":-0.1,"hi":0.1},
{"tr":"B3","k":"s","t":3.539,"lo":-0.08,"hi":0.08},
{"tr":"B3","k":"s","t":3.565,"lo":-0.1,"hi":0.1},
{"tr":"B3","k":"s","t":3.616,"lo":-0.05,"hi":0.05},
{"tr":"B3","k":"s","t":3.667,"lo":-0.23,"hi":0.23},
{"tr":"B3","k":"s","t":3.783,"lo":-0.17,"hi":0.11},
{"tr":"B3","k":"s","t":3.821,"lo":-0.17,"hi":0.11},

{"tr":"B4","k":"b","t":0.004,"t2":3.951,"lo":0},
{"tr":"B4","k":"L","t":3.97,"lo":1.27,"txt":"Right LD"},
{"tr":"B4","k":"v","t":-0.226,"lo":-2.06,"hi":2.0},
{"tr":"B4","k":"m","t":-0.301,"lo":-0.05,"txt":"4 mV"},
{"tr":"B4","k":"v","t":2.15,"lo":-3.33,"hi":-2.2},
{"tr":"B4","k":"p","t":2.15,"lo":-1.883},
{"tr":"B4","k":"h","t":0,"t2":1,"lo":-2.56},
{"tr":"B4","k":"n","t":0.44,"lo":-3.33,"txt":"1 s"},
{"tr":"B4","k":"c","t":1.91,"t2":2.03,"lo":-0.25,"hi":0.22},
{"tr":"B4","k":"c","t":2.04,"t2":2.18,"lo":-0.25,"hi":0.22},
{"tr":"B4","k":"s","t":0.234,"lo":-0.06,"hi":0.06},
{"tr":"B4","k":"s","t":0.35,"lo":-0.34,"hi":0.17},
{"tr":"B4","k":"s","t":0.503,"lo":-0.17,"hi":0.11},
{"tr":"B4","k":"s","t":0.619,"lo":-0.03,"hi":0.03},
{"tr":"B4","k":"s","t":0.721,"lo":-0.03,"hi":0.03},
{"tr":"B4","k":"s","t":0.747,"lo":-0.03,"hi":0.03},
{"tr":"B4","k":"s","t":0.9,"lo":-0.03,"hi":0.03},
{"tr":"B4","k":"s","t":1.208,"lo":-0.03,"hi":0.03},
{"tr":"B4","k":"s","t":1.669,"lo":-0.04,"hi":0.04},
{"tr":"B4","k":"s","t":1.72,"lo":-0.04,"hi":0.04},
{"tr":"B4","k":"s","t":1.771,"lo":-0.04,"hi":0.04},
{"tr":"B4","k":"s","t":1.81,"lo":-0.04,"hi":0.04},
{"tr":"B4","k":"s","t":1.836,"lo":-0.05,"hi":0.05},
{"tr":"B4","k":"s","t":1.861,"lo":-0.05,"hi":0.05},
{"tr":"B4","k":"s","t":1.887,"lo":-0.23,"hi":0.17},
{"tr":"B4","k":"s","t":1.912,"lo":-0.4,"hi":0.28},
{"tr":"B4","k":"s","t":1.918,"lo":-0.5,"hi":0.5},
{"tr":"B4","k":"s","t":1.925,"lo":-0.73,"hi":0.85},
{"tr":"B4","k":"s","t":1.93,"lo":-0.6,"hi":0.7},
{"tr":"B4","k":"s","t":1.935,"lo":-0.62,"hi":0.62},
{"tr":"B4","k":"s","t":1.941,"lo":-0.55,"hi":0.6},
{"tr":"B4","k":"s","t":1.946,"lo":-0.62,"hi":0.73},
{"tr":"B4","k":"s","t":1.951,"lo":-0.6,"hi":0.55},
{"tr":"B4","k":"s","t":1.956,"lo":-0.73,"hi":0.51},
{"tr":"B4","k":"s","t":1.96,"lo":-0.7,"hi":0.5},
{"tr":"B4","k":"s","t":1.964,"lo":-0.79,"hi":0.51},
{"tr":"B4","k":"s","t":1.969,"lo":-0.6,"hi":0.55},
{"tr":"B4","k":"s","t":1.974,"lo":-0.57,"hi":0.57},
{"tr":"B4","k":"s","t":1.978,"lo":-0.55,"hi":0.6},
{"tr":"B4","k":"s","t":1.982,"lo":-0.62,"hi":0.62},
{"tr":"B4","k":"s","t":1.987,"lo":-0.6,"hi":0.5},
{"tr":"B4","k":"s","t":1.992,"lo":-0.68,"hi":0.51},
{"tr":"B4","k":"s","t":1.997,"lo":-0.65,"hi":0.6},
{"tr":"B4","k":"s","t":2.002,"lo":-0.73,"hi":0.73},
{"tr":"B4","k":"s","t":2.008,"lo":-0.5,"hi":0.5},
{"tr":"B4","k":"s","t":2.015,"lo":-0.51,"hi":0.4},
{"tr":"B4","k":"s","t":2.028,"lo":-0.28,"hi":0.23},
{"tr":"B4","k":"s","t":2.04,"lo":-0.45,"hi":0.4},
{"tr":"B4","k":"s","t":2.044,"lo":-0.5,"hi":0.6},
{"tr":"B4","k":"s","t":2.048,"lo":-0.68,"hi":0.96},
{"tr":"B4","k":"s","t":2.053,"lo":-0.7,"hi":0.8},
{"tr":"B4","k":"s","t":2.058,"lo":-0.62,"hi":0.62},
{"tr":"B4","k":"s","t":2.062,"lo":-0.65,"hi":0.7},
{"tr":"B4","k":"s","t":2.066,"lo":-0.79,"hi":0.85},
{"tr":"B4","k":"s","t":2.07,"lo":-0.7,"hi":0.65},
{"tr":"B4","k":"s","t":2.074,"lo":-0.68,"hi":0.57},
{"tr":"B4","k":"s","t":2.079,"lo":-0.65,"hi":0.75},
{"tr":"B4","k":"s","t":2.084,"lo":-0.73,"hi":0.9},
{"tr":"B4","k":"s","t":2.088,"lo":-0.7,"hi":0.6},
{"tr":"B4","k":"s","t":2.092,"lo":-0.68,"hi":0.51},
{"tr":"B4","k":"s","t":2.099,"lo":-0.79,"hi":0.73},
{"tr":"B4","k":"s","t":2.104,"lo":-0.65,"hi":0.6},
{"tr":"B4","k":"s","t":2.11,"lo":-0.62,"hi":0.51},
{"tr":"B4","k":"s","t":2.117,"lo":-0.68,"hi":0.62},
{"tr":"B4","k":"s","t":2.126,"lo":-0.55,"hi":0.6},
{"tr":"B4","k":"s","t":2.135,"lo":-0.62,"hi":0.79},
{"tr":"B4","k":"s","t":2.145,"lo":-0.5,"hi":0.55},
{"tr":"B4","k":"s","t":2.156,"lo":-0.51,"hi":0.57},
{"tr":"B4","k":"s","t":2.166,"lo":-0.35,"hi":0.45},
{"tr":"B4","k":"s","t":2.176,"lo":-0.28,"hi":0.57},
{"tr":"B4","k":"s","t":2.207,"lo":-0.17,"hi":0.11},
{"tr":"B4","k":"s","t":2.233,"lo":-0.1,"hi":0.1},
{"tr":"B4","k":"s","t":2.258,"lo":-0.08,"hi":0.08},
{"tr":"B4","k":"s","t":2.284,"lo":-0.08,"hi":0.08},
{"tr":"B4","k":"s","t":2.322,"lo":-0.08,"hi":0.08},
{"tr":"B4","k":"s","t":2.361,"lo":-0.06,"hi":0.06},
{"tr":"B4","k":"s","t":2.438,"lo":-0.04,"hi":0.04},
{"tr":"B4","k":"s","t":2.476,"lo":-0.04,"hi":0.04},
{"tr":"B4","k":"s","t":2.514,"lo":-0.04,"hi":0.04},
{"tr":"B4","k":"s","t":2.668,"lo":-0.34,"hi":0.28},
{"tr":"B4","k":"s","t":2.681,"lo":-0.17,"hi":0.11},
{"tr":"B4","k":"s","t":2.796,"lo":-0.17,"hi":0.11},
{"tr":"B4","k":"s","t":2.835,"lo":-0.17,"hi":0.11},
{"tr":"B4","k":"s","t":2.86,"lo":-0.1,"hi":0.1},
{"tr":"B4","k":"s","t":2.924,"lo":-0.05,"hi":0.05},
{"tr":"B4","k":"s","t":2.975,"lo":-0.05,"hi":0.05},
{"tr":"B4","k":"s","t":3.04,"lo":-0.05,"hi":0.05},
{"tr":"B4","k":"s","t":3.155,"lo":-0.4,"hi":0.34},
{"tr":"B4","k":"s","t":3.258,"lo":-0.17,"hi":0.11},
{"tr":"B4","k":"s","t":3.321,"lo":-0.06,"hi":0.06},
{"tr":"B4","k":"s","t":3.385,"lo":-0.23,"hi":0.17},
{"tr":"B4","k":"s","t":3.462,"lo":-0.06,"hi":0.06},
{"tr":"B4","k":"s","t":3.539,"lo":-0.23,"hi":0.17},
{"tr":"B4","k":"s","t":3.578,"lo":-0.07,"hi":0.07},
{"tr":"B4","k":"s","t":3.603,"lo":-0.07,"hi":0.07},
{"tr":"B4","k":"s","t":3.629,"lo":-0.07,"hi":0.07},
{"tr":"B4","k":"s","t":3.654,"lo":-0.07,"hi":0.07},
{"tr":"B4","k":"s","t":3.77,"lo":-0.07,"hi":0.07},
{"tr":"B4","k":"s","t":3.821,"lo":-0.07,"hi":0.07}
]},
"vconcat":[
{"height":136,"width":650,"data":{"name":"d"},"transform":[{"filter":"datum.tr=='A1'"}],
"encoding":{"x":{"field":"t","type":"quantitative","scale":{"domain":[-0.7518,3.9927],"nice":false,"zero":false},"axis":null},
"y":{"field":"lo","type":"quantitative","scale":{"domain":[-2.3,2.233],"nice":false,"zero":false},"axis":null}},
"layer":[
{"transform":[{"filter":"datum.k=='B'"}],"mark":{"type":"rule","color":"#000","strokeWidth":2.4},"encoding":{"x2":{"field":"t2"}}},
{"transform":[{"filter":"datum.k=='c'"}],"mark":{"type":"rect","color":"#000"},"encoding":{"x2":{"field":"t2"},"y2":{"field":"hi"}}},
{"transform":[{"filter":"datum.k=='s'"}],"mark":{"type":"rule","color":"#000","strokeWidth":1.3},"encoding":{"y2":{"field":"hi"}}},
{"transform":[{"filter":"datum.k=='L'"}],"mark":{"type":"text","color":"#000","font":"Liberation Serif, Times New Roman, DejaVu Serif, serif","fontSize":24,"align":"right","baseline":"alphabetic"},"encoding":{"text":{"field":"txt"}}},
{"transform":[{"filter":"datum.k=='P'"}],"mark":{"type":"text","color":"#000","font":"Liberation Sans, Arial, sans-serif","fontSize":31,"align":"center","baseline":"alphabetic"},"encoding":{"text":{"field":"txt"}}}
]},
{"height":137,"width":650,"data":{"name":"d"},"transform":[{"filter":"datum.tr=='A2'"}],
"encoding":{"x":{"field":"t","type":"quantitative","scale":{"domain":[-0.7518,3.9927],"nice":false,"zero":false},"axis":null},
"y":{"field":"lo","type":"quantitative","scale":{"domain":[-2.3,2.267],"nice":false,"zero":false},"axis":null}},
"layer":[
{"transform":[{"filter":"datum.k=='b'"}],"mark":{"type":"rule","color":"#000","strokeWidth":1.3},"encoding":{"x2":{"field":"t2"}}},
{"transform":[{"filter":"datum.k=='c'"}],"mark":{"type":"rect","color":"#000"},"encoding":{"x2":{"field":"t2"},"y2":{"field":"hi"}}},
{"transform":[{"filter":"datum.k=='s'"}],"mark":{"type":"rule","color":"#000","strokeWidth":1.3},"encoding":{"y2":{"field":"hi"}}},
{"transform":[{"filter":"datum.k=='L'"}],"mark":{"type":"text","color":"#000","font":"Liberation Serif, Times New Roman, DejaVu Serif, serif","fontSize":24,"align":"right","baseline":"alphabetic"},"encoding":{"text":{"field":"txt"}}}
]},
{"height":138,"width":650,"data":{"name":"d"},"transform":[{"filter":"datum.tr=='A3'"}],
"encoding":{"x":{"field":"t","type":"quantitative","scale":{"domain":[-0.7518,3.9927],"nice":false,"zero":false},"axis":null},
"y":{"field":"lo","type":"quantitative","scale":{"domain":[-2.3,2.3],"nice":false,"zero":false},"axis":null}},
"layer":[
{"transform":[{"filter":"datum.k=='b'"}],"mark":{"type":"rule","color":"#000","strokeWidth":1.3},"encoding":{"x2":{"field":"t2"}}},
{"transform":[{"filter":"datum.k=='c'"}],"mark":{"type":"rect","color":"#000"},"encoding":{"x2":{"field":"t2"},"y2":{"field":"hi"}}},
{"transform":[{"filter":"datum.k=='s'"}],"mark":{"type":"rule","color":"#000","strokeWidth":1.3},"encoding":{"y2":{"field":"hi"}}},
{"transform":[{"filter":"datum.k=='L'"}],"mark":{"type":"text","color":"#000","font":"Liberation Serif, Times New Roman, DejaVu Serif, serif","fontSize":24,"align":"right","baseline":"alphabetic"},"encoding":{"text":{"field":"txt"}}}
]},
{"height":179,"width":650,"data":{"name":"d"},"transform":[{"filter":"datum.tr=='A4'"}],
"encoding":{"x":{"field":"t","type":"quantitative","scale":{"domain":[-0.7518,3.9927],"nice":false,"zero":false},"axis":null},
"y":{"field":"lo","type":"quantitative","scale":{"domain":[-3.7,2.267],"nice":false,"zero":false},"axis":null}},
"layer":[
{"transform":[{"filter":"datum.k=='b'"}],"mark":{"type":"rule","color":"#000","strokeWidth":1.3},"encoding":{"x2":{"field":"t2"}}},
{"transform":[{"filter":"datum.k=='c'"}],"mark":{"type":"rect","color":"#000"},"encoding":{"x2":{"field":"t2"},"y2":{"field":"hi"}}},
{"transform":[{"filter":"datum.k=='s'"}],"mark":{"type":"rule","color":"#000","strokeWidth":1.3},"encoding":{"y2":{"field":"hi"}}},
{"transform":[{"filter":"datum.k=='v'"}],"mark":{"type":"rule","color":"#000","strokeWidth":3},"encoding":{"y2":{"field":"hi"}}},
{"transform":[{"filter":"datum.k=='p'"}],"mark":{"type":"point","shape":"M0,-1L0.565,1L-0.565,1Z","size":529,"filled":true,"opacity":1,"color":"#000","strokeWidth":0}},
{"transform":[{"filter":"datum.k=='L'"}],"mark":{"type":"text","color":"#000","font":"Liberation Serif, Times New Roman, DejaVu Serif, serif","fontSize":24,"align":"right","baseline":"alphabetic"},"encoding":{"text":{"field":"txt"}}},
{"transform":[{"filter":"datum.k=='m'"}],"mark":{"type":"text","color":"#000","font":"Liberation Serif, Times New Roman, DejaVu Serif, serif","fontSize":24,"align":"right","baseline":"middle"},"encoding":{"text":{"field":"txt"}}}
]},
{"height":170,"width":650,"data":{"name":"d"},"transform":[{"filter":"datum.tr=='B1'"}],
"encoding":{"x":{"field":"t","type":"quantitative","scale":{"domain":[-0.7518,3.9927],"nice":false,"zero":false},"axis":null},
"y":{"field":"lo","type":"quantitative","scale":{"domain":[-2.3,3.367],"nice":false,"zero":false},"axis":null}},
"layer":[
{"transform":[{"filter":"datum.k=='B'"}],"mark":{"type":"rule","color":"#000","strokeWidth":2.4},"encoding":{"x2":{"field":"t2"}}},
{"transform":[{"filter":"datum.k=='c'"}],"mark":{"type":"rect","color":"#000"},"encoding":{"x2":{"field":"t2"},"y2":{"field":"hi"}}},
{"transform":[{"filter":"datum.k=='s'"}],"mark":{"type":"rule","color":"#000","strokeWidth":1.3},"encoding":{"y2":{"field":"hi"}}},
{"transform":[{"filter":"datum.k=='L'"}],"mark":{"type":"text","color":"#000","font":"Liberation Serif, Times New Roman, DejaVu Serif, serif","fontSize":24,"align":"right","baseline":"alphabetic"},"encoding":{"text":{"field":"txt"}}},
{"transform":[{"filter":"datum.k=='P'"}],"mark":{"type":"text","color":"#000","font":"Liberation Sans, Arial, sans-serif","fontSize":31,"align":"center","baseline":"alphabetic"},"encoding":{"text":{"field":"txt"}}}
]},
{"height":138,"width":650,"data":{"name":"d"},"transform":[{"filter":"datum.tr=='B2'"}],
"encoding":{"x":{"field":"t","type":"quantitative","scale":{"domain":[-0.7518,3.9927],"nice":false,"zero":false},"axis":null},
"y":{"field":"lo","type":"quantitative","scale":{"domain":[-2.3,2.3],"nice":false,"zero":false},"axis":null}},
"layer":[
{"transform":[{"filter":"datum.k=='b'"}],"mark":{"type":"rule","color":"#000","strokeWidth":1.3},"encoding":{"x2":{"field":"t2"}}},
{"transform":[{"filter":"datum.k=='c'"}],"mark":{"type":"rect","color":"#000"},"encoding":{"x2":{"field":"t2"},"y2":{"field":"hi"}}},
{"transform":[{"filter":"datum.k=='s'"}],"mark":{"type":"rule","color":"#000","strokeWidth":1.3},"encoding":{"y2":{"field":"hi"}}},
{"transform":[{"filter":"datum.k=='L'"}],"mark":{"type":"text","color":"#000","font":"Liberation Serif, Times New Roman, DejaVu Serif, serif","fontSize":24,"align":"right","baseline":"alphabetic"},"encoding":{"text":{"field":"txt"}}}
]},
{"height":138,"width":650,"data":{"name":"d"},"transform":[{"filter":"datum.tr=='B3'"}],
"encoding":{"x":{"field":"t","type":"quantitative","scale":{"domain":[-0.7518,3.9927],"nice":false,"zero":false},"axis":null},
"y":{"field":"lo","type":"quantitative","scale":{"domain":[-2.3,2.3],"nice":false,"zero":false},"axis":null}},
"layer":[
{"transform":[{"filter":"datum.k=='b'"}],"mark":{"type":"rule","color":"#000","strokeWidth":1.3},"encoding":{"x2":{"field":"t2"}}},
{"transform":[{"filter":"datum.k=='c'"}],"mark":{"type":"rect","color":"#000"},"encoding":{"x2":{"field":"t2"},"y2":{"field":"hi"}}},
{"transform":[{"filter":"datum.k=='s'"}],"mark":{"type":"rule","color":"#000","strokeWidth":1.3},"encoding":{"y2":{"field":"hi"}}},
{"transform":[{"filter":"datum.k=='L'"}],"mark":{"type":"text","color":"#000","font":"Liberation Serif, Times New Roman, DejaVu Serif, serif","fontSize":24,"align":"right","baseline":"alphabetic"},"encoding":{"text":{"field":"txt"}}}
]},
{"height":173,"width":650,"data":{"name":"d"},"transform":[{"filter":"datum.tr=='B4'"}],
"encoding":{"x":{"field":"t","type":"quantitative","scale":{"domain":[-0.7518,3.9927],"nice":false,"zero":false},"axis":null},
"y":{"field":"lo","type":"quantitative","scale":{"domain":[-3.467,2.3],"nice":false,"zero":false},"axis":null}},
"layer":[
{"transform":[{"filter":"datum.k=='b'"}],"mark":{"type":"rule","color":"#000","strokeWidth":1.3},"encoding":{"x2":{"field":"t2"}}},
{"transform":[{"filter":"datum.k=='c'"}],"mark":{"type":"rect","color":"#000"},"encoding":{"x2":{"field":"t2"},"y2":{"field":"hi"}}},
{"transform":[{"filter":"datum.k=='s'"}],"mark":{"type":"rule","color":"#000","strokeWidth":1.3},"encoding":{"y2":{"field":"hi"}}},
{"transform":[{"filter":"datum.k=='v'"}],"mark":{"type":"rule","color":"#000","strokeWidth":3},"encoding":{"y2":{"field":"hi"}}},
{"transform":[{"filter":"datum.k=='h'"}],"mark":{"type":"rule","color":"#000","strokeWidth":3},"encoding":{"x2":{"field":"t2"}}},
{"transform":[{"filter":"datum.k=='p'"}],"mark":{"type":"point","shape":"M0,-1L0.565,1L-0.565,1Z","size":529,"filled":true,"opacity":1,"color":"#000","strokeWidth":0}},
{"transform":[{"filter":"datum.k=='L'"}],"mark":{"type":"text","color":"#000","font":"Liberation Serif, Times New Roman, DejaVu Serif, serif","fontSize":24,"align":"right","baseline":"alphabetic"},"encoding":{"text":{"field":"txt"}}},
{"transform":[{"filter":"datum.k=='m'"}],"mark":{"type":"text","color":"#000","font":"Liberation Serif, Times New Roman, DejaVu Serif, serif","fontSize":24,"align":"right","baseline":"middle"},"encoding":{"text":{"field":"txt"}}},
{"transform":[{"filter":"datum.k=='n'"}],"mark":{"type":"text","color":"#000","font":"Liberation Serif, Times New Roman, DejaVu Serif, serif","fontSize":24,"align":"center","baseline":"alphabetic"},"encoding":{"text":{"field":"txt"}}}
]}
]}
